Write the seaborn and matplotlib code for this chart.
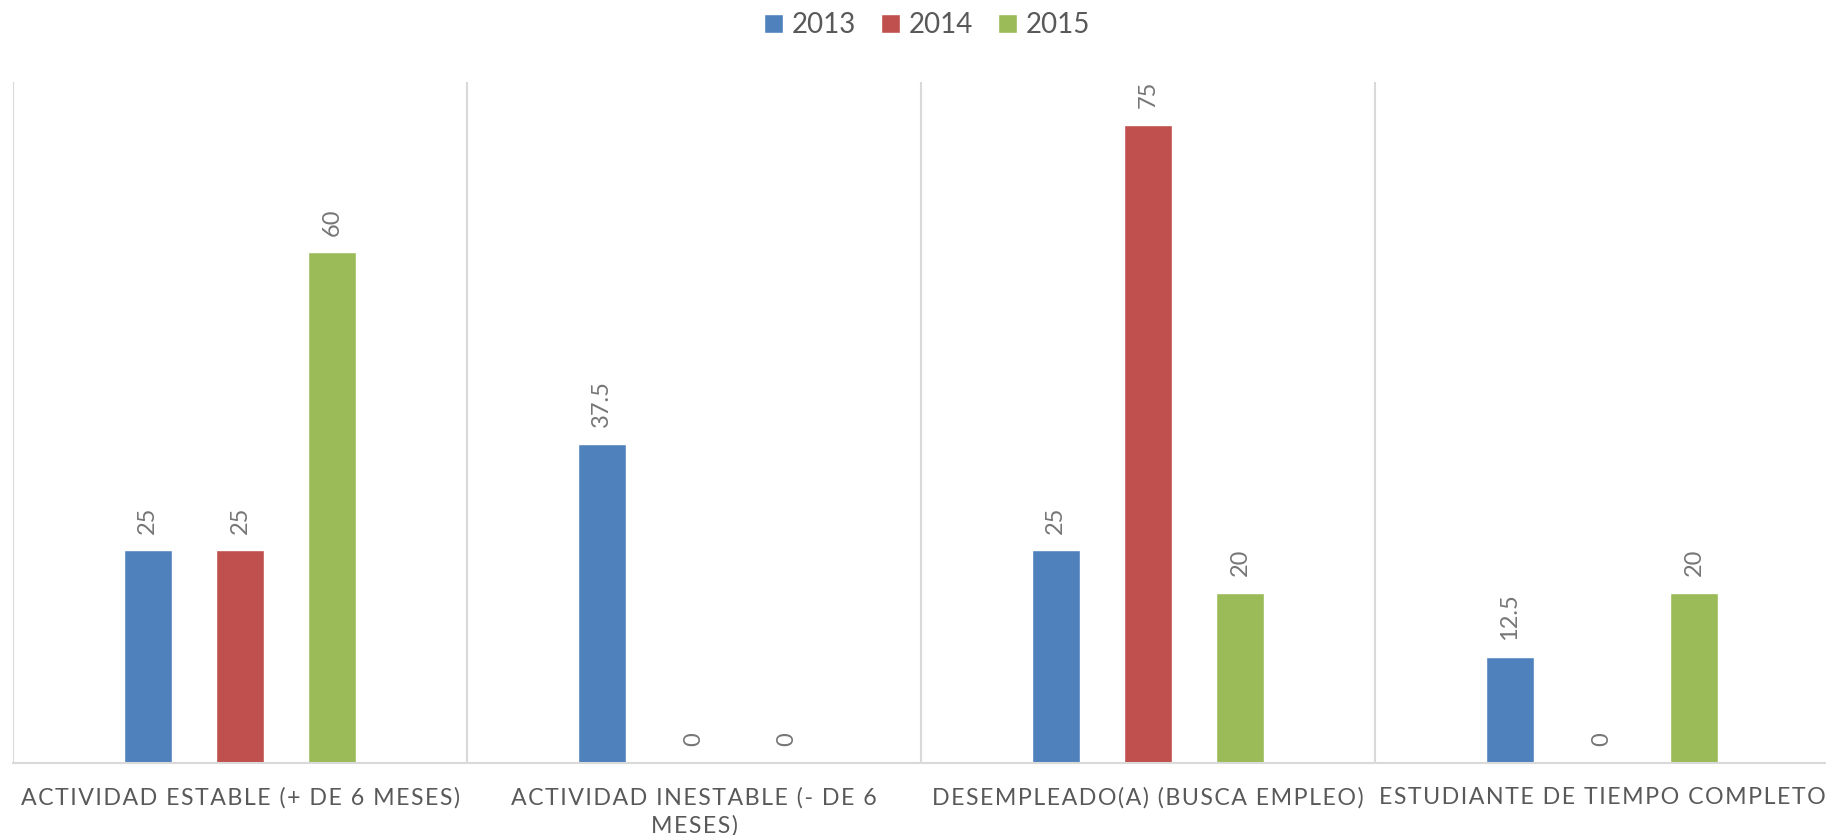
import pandas as pd
import matplotlib.pyplot as plt
import seaborn as sns

categorias = [
    "ACTIVIDAD ESTABLE (+ DE 6 MESES)",
    "ACTIVIDAD INESTABLE (- DE 6\nMESES)",
    "DESEMPLEADO(A) (BUSCA EMPLEO)",
    "ESTUDIANTE DE TIEMPO COMPLETO",
]
anios = ["2013", "2014", "2015"]
v2013 = [25, 37.5, 25, 12.5]
v2014 = [25, 0, 75, 0]
v2015 = [60, 0, 20, 20]

colores = ["#4F81BD", "#C0504D", "#9BBB59"]

rows = []
for anio, vals in zip(anios, [v2013, v2014, v2015]):
    for cat, v in zip(categorias, vals):
        rows.append({"categoria": cat, "anio": anio, "valor": v})
df = pd.DataFrame(rows)

sns.set_style("white")
plt.rcParams['font.family'] = ['Lato', 'DejaVu Sans']

fig = plt.figure(figsize=(18.26, 8.35), dpi=100)
ax = fig.add_axes([13 / 1826, 1 - 763 / 835, 1816 / 1826, (763 - 82) / 835])

sns.barplot(data=df, x="categoria", y="valor", hue="anio", palette=colores,
            width=0.61, gap=0.48, saturation=1, ax=ax, legend=True)

# etiquetas de datos giradas
for cont in ax.containers:
    ax.bar_label(cont, labels=[f"{v:g}" for v in cont.datavalues],
                 rotation=90, padding=12, fontsize=17, color="#767676")

ax.set_ylim(0, 80)
ax.set_xlim(-0.5, 3.5)
for x in [-0.5, 0.5, 1.5, 2.5, 3.5]:
    ax.axvline(x, color="#D9D9D9", lw=1.5, zorder=0)
for s in ["top", "right", "left"]:
    ax.spines[s].set_visible(False)
ax.spines["bottom"].set_color("#D9D9D9")
ax.spines["bottom"].set_linewidth(1.5)
ax.set_yticks([])
ax.set_xlabel("")
ax.set_ylabel("")


# espaciado entre letras como en Excel
def espaciar(t):
    return "\n".join("\u200a".join(linea) for linea in t.split("\n"))


ax.set_xticks(range(len(categorias)))
ax.set_xticklabels([espaciar(c) for c in categorias], linespacing=1.4)
ax.tick_params(axis="x", length=0, pad=17, labelsize=16.7, labelcolor="#595959")

h, l = ax.get_legend_handles_labels()
ax.legend(h, l, loc="center", bbox_to_anchor=(0.5 + 14 / 1826, (835 - 25) / 835),
          bbox_transform=fig.transFigure, ncol=3, frameon=False,
          fontsize=20, labelcolor="#595959", handlelength=0.7, handleheight=0.7,
          handletextpad=0.3, columnspacing=0.9)

fig.savefig("out.png", dpi=100)
